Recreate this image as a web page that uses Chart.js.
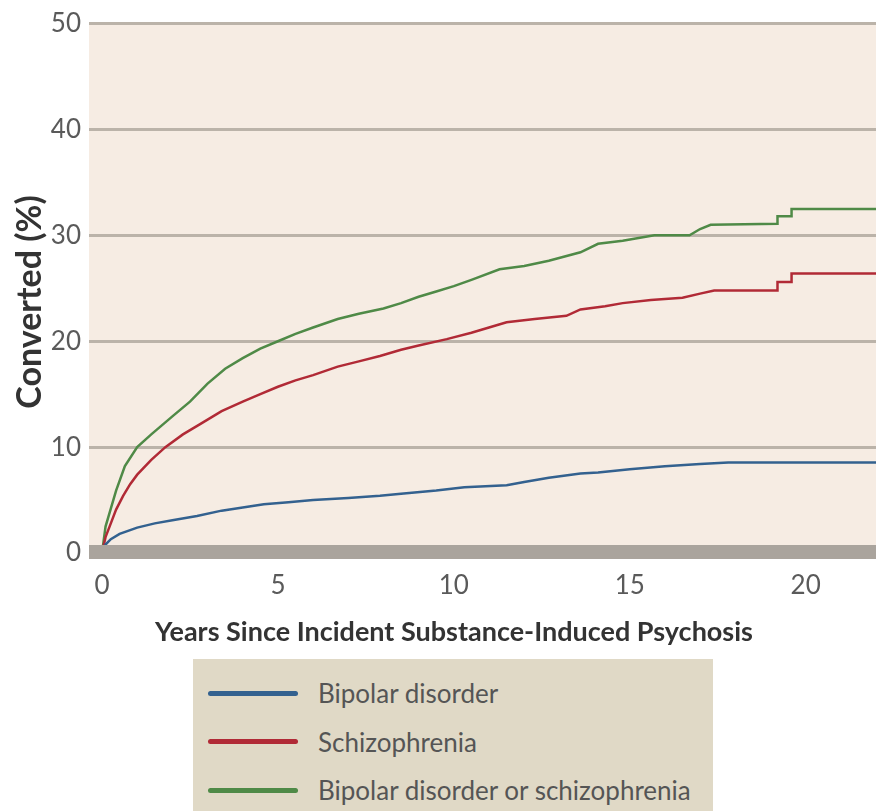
<!DOCTYPE html>
<html>
<head>
<meta charset="utf-8">
<script src="https://cdn.jsdelivr.net/npm/chart.js@4/dist/chart.umd.min.js"></script>
<style>
  body { margin: 0; background: #fff; }
  #wrap { position: relative; width: 876px; height: 811px; overflow: hidden; }
  #legend {
    position: absolute; left: 193px; top: 659px; width: 520px; height: 152px;
    background: #e0d9c6;
  }
  .item { position: absolute; left: 15px; height: 30px; display: flex; align-items: center; }
  .swatch { width: 90px; height: 5px; border-radius: 3px; margin-right: 20px; }
  .item span { font: 26px Lato, sans-serif; color: #555; }
</style>
</head>
<body>
<div id="wrap">
  <canvas id="chart" width="876" height="660"></canvas>
  <div id="legend"></div>
</div>
<script>
const seriesNames = ["Bipolar disorder", "Schizophrenia", "Bipolar disorder or schizophrenia"];
const seriesColors = ["#33618f", "#b12a36", "#4f8a47"];

// years since psychosis / cumulative % converted
const bipolarYears = [0, 0.1, 0.25, 0.5, 1, 1.5, 2, 2.7, 3.4, 4, 4.6, 5.3, 6, 7, 7.9, 8.5, 9.5, 10.3, 11.5, 12, 12.7, 13.6, 14.1, 15, 16, 17, 17.8, 22];
const bipolarPct   = [0, 0.8, 1.3, 1.8, 2.4, 2.8, 3.1, 3.5, 4.0, 4.3, 4.6, 4.8, 5.0, 5.2, 5.4, 5.6, 5.9, 6.2, 6.4, 6.7, 7.1, 7.5, 7.6, 7.9, 8.2, 8.4, 8.55, 8.55];

const schizoYears = [0, 0.1, 0.25, 0.4, 0.6, 0.8, 1, 1.4, 1.8, 2.3, 2.8, 3.4, 4, 4.5, 5, 5.5, 6, 6.7, 7.3, 7.9, 8.5, 9, 9.8, 10.5, 11, 11.5, 12.3, 13.2, 13.6, 14.3, 14.8, 15.6, 16.5, 17, 17.4, 19.2, 19.2, 19.6, 19.6, 22];
const schizoPct   = [0, 1.5, 2.8, 4.1, 5.4, 6.5, 7.4, 8.8, 10.0, 11.2, 12.2, 13.4, 14.3, 15.0, 15.7, 16.3, 16.8, 17.6, 18.1, 18.6, 19.2, 19.6, 20.2, 20.8, 21.3, 21.8, 22.1, 22.4, 23.0, 23.3, 23.6, 23.9, 24.1, 24.5, 24.8, 24.8, 25.6, 25.6, 26.4, 26.4];

const eitherYears = [0, 0.1, 0.25, 0.4, 0.65, 1, 1.4, 2, 2.5, 3, 3.5, 4, 4.5, 5, 5.5, 6, 6.7, 7.3, 8, 8.5, 9, 9.5, 10, 10.5, 11.3, 12, 12.7, 13.6, 14.1, 14.8, 15.7, 16.7, 17, 17.3, 19.2, 19.2, 19.6, 19.6, 22];
const eitherPct   = [0, 2.5, 4.2, 5.9, 8.2, 10.0, 11.2, 12.9, 14.3, 16.0, 17.4, 18.4, 19.3, 20.0, 20.7, 21.3, 22.1, 22.6, 23.1, 23.6, 24.2, 24.7, 25.2, 25.8, 26.8, 27.1, 27.6, 28.4, 29.2, 29.5, 30.0, 30.0, 30.6, 31.0, 31.1, 31.8, 31.8, 32.5, 32.5];

const xTicks = [0, 5, 10, 15, 20];
const yTicks = [0, 10, 20, 30, 40, 50];
const xTitle = "Years Since Incident Substance-Induced Psychosis";
const yTitle = "Converted (%)";

function toPoints(xs, ys) {
  return xs.map((x, i) => ({ x: x, y: ys[i] }));
}

const seriesData = [
  toPoints(bipolarYears, bipolarPct),
  toPoints(schizoYears, schizoPct),
  toPoints(eitherYears, eitherPct)
];

// beige plot background, thick grey baseline over the curves, axis titles
const plotStyle = {
  id: "plotStyle",
  beforeDraw(chart) {
    const { ctx, chartArea } = chart;
    const y0 = chart.scales.y.getPixelForValue(0);
    ctx.save();
    ctx.fillStyle = "#f6ece3";
    ctx.fillRect(chartArea.left, chartArea.top, chartArea.right - chartArea.left, y0 - chartArea.top);
    ctx.restore();
  },
  afterDatasetsDraw(chart) {
    const { ctx, chartArea } = chart;
    const y0 = chart.scales.y.getPixelForValue(0);
    ctx.save();
    ctx.fillStyle = "#aaa49d";
    ctx.fillRect(chartArea.left, y0 - 8, chartArea.right - chartArea.left, 14);
    ctx.restore();
  },
  afterDraw(chart) {
    const { ctx } = chart;
    ctx.save();
    ctx.fillStyle = "#333";
    ctx.textAlign = "center";
    ctx.textBaseline = "middle";
    ctx.font = "bold 27px Lato";
    ctx.fillText(xTitle, 454, 632);
    ctx.translate(30, 302);
    ctx.rotate(-Math.PI / 2);
    ctx.font = "bold 34px Lato";
    ctx.fillText(yTitle, 0, 0);
    ctx.restore();
  }
};

const chart = new Chart(document.getElementById("chart"), {
  type: "line",
  data: {
    datasets: seriesNames.map((name, i) => ({
      label: name,
      data: seriesData[i],
      borderColor: seriesColors[i],
      borderWidth: 2.5,
      pointRadius: 0,
      tension: 0,
      fill: false
    }))
  },
  options: {
    responsive: false,
    animation: false,
    layout: { padding: { top: 22, right: 0, left: 0, bottom: 0 } },
    plugins: { legend: { display: false }, tooltip: { enabled: false } },
    scales: {
      x: {
        type: "linear",
        min: -0.37,
        max: 22,
        afterBuildTicks: (s) => { s.ticks = xTicks.map(v => ({ value: v })); },
        afterFit: (s) => { s.height = 107; },
        grid: { display: false, drawTicks: false },
        border: { display: false },
        ticks: { padding: 17, color: "#5a5a5a", font: { family: "Lato", size: 26 } }
      },
      y: {
        min: 0,
        max: 50,
        afterBuildTicks: (s) => { s.ticks = yTicks.map(v => ({ value: v })); },
        afterFit: (s) => { s.width = 89; },
        grid: { color: "#bbb3a9", lineWidth: 3, drawTicks: false },
        border: { display: false },
        ticks: { padding: 8, color: "#5a5a5a", font: { family: "Lato", size: 26 } }
      }
    }
  },
  plugins: [plotStyle]
});

// legend box under the chart, built from the datasets
const legendEl = document.getElementById("legend");
chart.data.datasets.forEach((ds, i) => {
  const item = document.createElement("div");
  item.className = "item";
  item.style.top = (19 + i * 48.5) + "px";
  item.innerHTML = `<div class="swatch" style="background:${ds.borderColor}"></div><span>${ds.label}</span>`;
  legendEl.appendChild(item);
});
</script>
</body>
</html>
